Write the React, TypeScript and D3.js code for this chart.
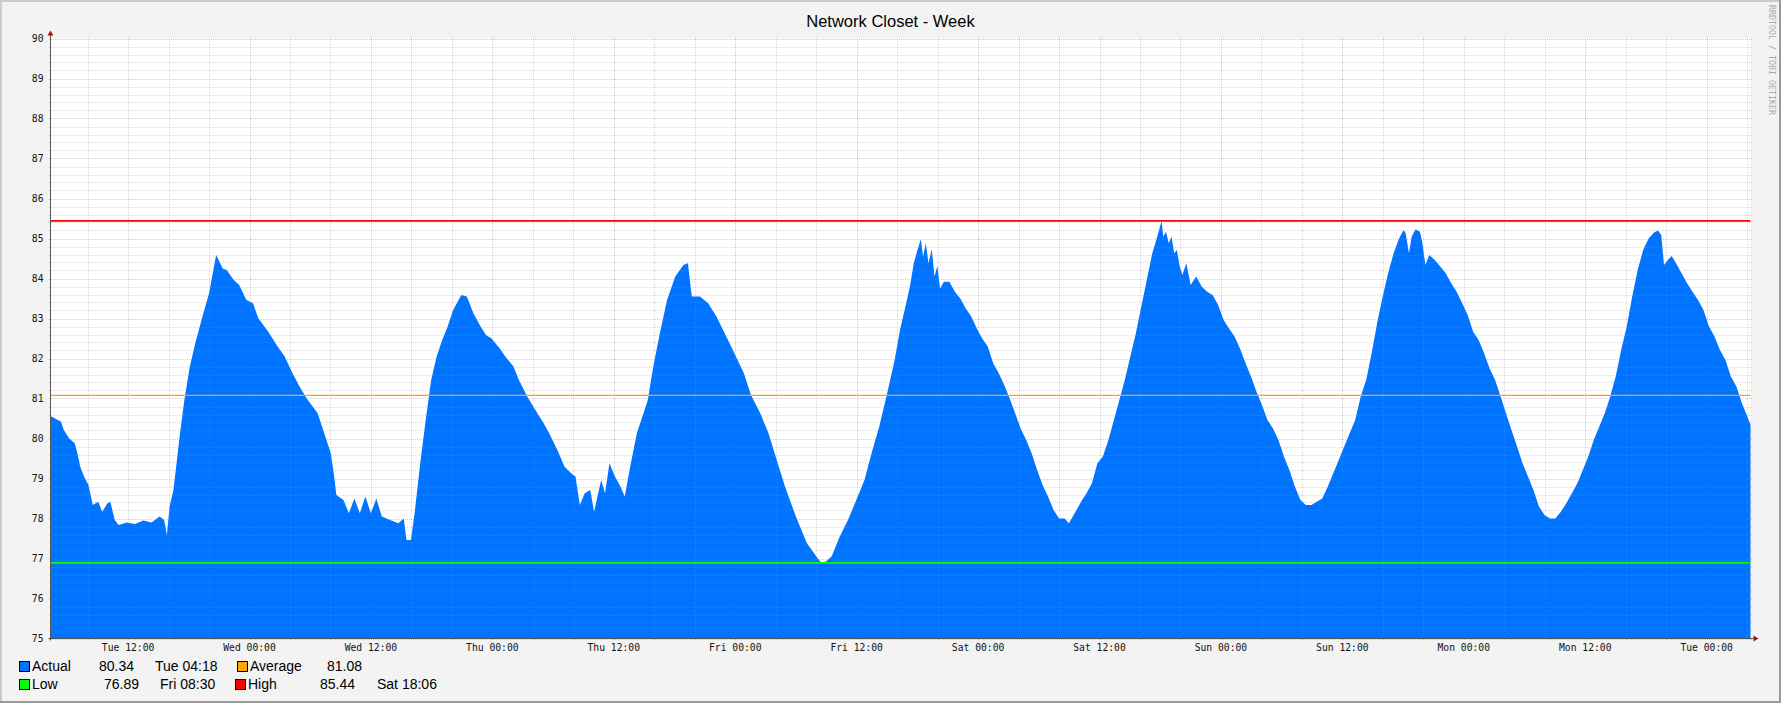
import React, { useEffect, useRef } from 'react'
import * as d3 from 'd3'

// graph window: one week ending Tue 04:20
const startTime = new Date(2024, 0, 2, 4, 20)
const spanHours = 168

// [hours since start, temperature]
const actual: [number, number][] = [
  [0.0, 80.56], [1.04, 80.42], [1.31, 80.21], [1.85, 80.0], [2.39, 79.88], [2.66, 79.63],
  [2.93, 79.3], [3.31, 79.05], [3.75, 78.84], [4.18, 78.34], [4.72, 78.42], [5.1, 78.17],
  [5.64, 78.38], [5.91, 78.42], [6.35, 77.96], [6.73, 77.84], [7.54, 77.9], [8.35, 77.86],
  [9.17, 77.95], [9.98, 77.9], [10.79, 78.05], [11.23, 77.96], [11.5, 77.59], [11.77, 78.3],
  [12.15, 78.71], [12.42, 79.3], [12.8, 80.13], [13.23, 80.96], [13.77, 81.8], [14.31, 82.38],
  [15.02, 83.05], [15.67, 83.63], [16.37, 84.59], [17.02, 84.25], [17.4, 84.21], [18.11, 83.96],
  [18.65, 83.84], [19.36, 83.46], [20.01, 83.38], [20.55, 83.0], [21.52, 82.67], [22.44, 82.3],
  [23.15, 82.05], [23.91, 81.63], [24.61, 81.3], [25.32, 81.0], [26.4, 80.63], [27.05, 80.13],
  [27.7, 79.63], [28.03, 79.05], [28.25, 78.59], [28.95, 78.46], [29.49, 78.13], [30.03, 78.5],
  [30.57, 78.13], [31.12, 78.55], [31.66, 78.13], [32.2, 78.5], [32.74, 78.05], [33.56, 77.96],
  [34.37, 77.88], [34.91, 78.0], [35.18, 77.46], [35.62, 77.46], [36.0, 78.17], [36.54, 79.38],
  [37.08, 80.46], [37.62, 81.46], [38.16, 82.05], [38.71, 82.46], [39.25, 82.8], [39.79, 83.21],
  [40.6, 83.59], [41.14, 83.55], [41.79, 83.13], [42.5, 82.8], [43.04, 82.59], [43.58, 82.5],
  [44.4, 82.25], [44.94, 82.05], [45.75, 81.8], [46.29, 81.46], [47.11, 81.05], [47.92, 80.71],
  [48.73, 80.38], [49.28, 80.13], [50.09, 79.71], [50.79, 79.3], [51.44, 79.13], [51.88, 79.05],
  [52.31, 78.34], [52.8, 78.63], [53.34, 78.71], [53.72, 78.17], [54.42, 78.96], [54.8, 78.63],
  [55.24, 79.38], [55.78, 79.05], [56.32, 78.8], [56.75, 78.55], [57.29, 79.3], [57.95, 80.13],
  [59.03, 80.96], [59.57, 81.8], [60.22, 82.63], [60.93, 83.46], [61.74, 84.05], [62.55, 84.34],
  [62.99, 84.38], [63.37, 83.55], [64.18, 83.55], [64.99, 83.38], [65.81, 83.05], [66.62, 82.63],
  [67.43, 82.21], [68.52, 81.63], [69.22, 81.09], [70.14, 80.63], [70.95, 80.13], [71.77, 79.46],
  [72.58, 78.8], [73.66, 78.05], [74.75, 77.38], [75.83, 77.0], [76.2, 76.89], [76.6, 76.92],
  [77.19, 77.05], [78.0, 77.55], [78.81, 77.96], [79.63, 78.46], [80.44, 78.96], [81.14, 79.63],
  [81.9, 80.3], [82.61, 81.05], [83.42, 81.96], [83.95, 82.71], [84.49, 83.3], [84.93, 83.8],
  [85.31, 84.38], [85.68, 84.71], [86.01, 84.98], [86.23, 84.55], [86.5, 84.88], [86.77, 84.38],
  [87.09, 84.73], [87.36, 84.05], [87.64, 84.31], [87.91, 83.75], [88.29, 83.92], [88.83, 83.92],
  [89.37, 83.67], [89.91, 83.5], [90.45, 83.25], [90.99, 83.05], [91.54, 82.75], [92.08, 82.5],
  [92.62, 82.3], [93.16, 81.88], [93.71, 81.63], [94.25, 81.34], [94.79, 81.0], [95.33, 80.63],
  [95.87, 80.25], [96.42, 79.96], [96.96, 79.63], [97.5, 79.21], [98.04, 78.84], [98.58, 78.55],
  [99.13, 78.21], [99.67, 78.0], [100.21, 78.0], [100.64, 77.88], [101.02, 78.05], [101.4, 78.21],
  [101.84, 78.42], [102.38, 78.63], [102.92, 78.88], [103.46, 79.38], [104.0, 79.55], [104.55, 79.96],
  [105.09, 80.46], [105.63, 80.96], [106.17, 81.46], [106.71, 82.05], [107.26, 82.63], [107.8, 83.3],
  [108.34, 83.96], [108.88, 84.63], [109.32, 85.0], [109.8, 85.44], [109.97, 85.05], [110.24, 85.17],
  [110.51, 84.88], [110.78, 85.05], [111.05, 84.63], [111.32, 84.71], [111.59, 84.3], [111.86, 84.09],
  [112.24, 84.38], [112.68, 83.84], [113.22, 84.05], [113.76, 83.8], [114.3, 83.67], [114.84, 83.59],
  [115.39, 83.34], [115.93, 82.96], [116.47, 82.75], [117.01, 82.55], [117.55, 82.25], [118.1, 81.88],
  [118.64, 81.55], [119.18, 81.17], [119.72, 80.84], [120.26, 80.46], [120.81, 80.25], [121.35, 79.96],
  [121.89, 79.55], [122.43, 79.21], [122.97, 78.8], [123.52, 78.46], [124.06, 78.34], [124.6, 78.34],
  [125.14, 78.42], [125.68, 78.5], [126.23, 78.8], [126.77, 79.13], [127.31, 79.46], [127.85, 79.8],
  [128.39, 80.13], [128.94, 80.46], [129.48, 81.05], [130.02, 81.46], [130.56, 82.13], [131.1, 82.88],
  [131.65, 83.55], [132.19, 84.13], [132.73, 84.63], [133.27, 85.0], [133.71, 85.21], [133.92, 85.13],
  [134.25, 84.63], [134.52, 85.05], [134.9, 85.23], [135.33, 85.17], [135.55, 84.92], [135.87, 84.34],
  [136.25, 84.59], [136.8, 84.46], [137.34, 84.3], [137.88, 84.13], [138.42, 83.88], [138.96, 83.67],
  [139.51, 83.38], [140.05, 83.09], [140.59, 82.67], [141.13, 82.46], [141.67, 82.13], [142.22, 81.75],
  [142.76, 81.46], [143.3, 81.05], [143.84, 80.63], [144.38, 80.21], [144.93, 79.8], [145.47, 79.38],
  [146.01, 79.05], [146.55, 78.71], [147.09, 78.3], [147.64, 78.09], [148.18, 78.0], [148.72, 78.0],
  [149.26, 78.17], [149.8, 78.38], [150.35, 78.63], [150.89, 78.88], [151.43, 79.21], [151.97, 79.55],
  [152.51, 79.96], [153.06, 80.3], [153.6, 80.63], [154.14, 81.05], [154.68, 81.55], [155.22, 82.21],
  [155.77, 82.8], [156.31, 83.55], [156.85, 84.21], [157.39, 84.71], [157.93, 85.0], [158.48, 85.15],
  [158.85, 85.2], [159.18, 85.09], [159.45, 84.34], [159.83, 84.46], [160.21, 84.56], [160.64, 84.38],
  [161.19, 84.13], [161.73, 83.88], [162.27, 83.67], [162.81, 83.46], [163.35, 83.21], [163.9, 82.8],
  [164.44, 82.55], [164.98, 82.21], [165.52, 81.96], [166.06, 81.55], [166.61, 81.3], [167.15, 80.88],
  [167.69, 80.55], [168.0, 80.34],
]

const averageValue = 81.08
const lowValue = 76.89
const highValue = 85.44

const yDomain = [75, 90]

const legendNames = ['Actual', 'Average', 'Low', 'High']
const legendColors = ['#0073FF', '#FFA500', '#00FF00', '#FF0000']
const legendValues = ['80.34', '81.08', '76.89', '85.44']
const legendTimes = ['Tue 04:18', '', 'Fri 08:30', 'Sat 18:06']

const title = 'Network Closet - Week'
const watermark = 'RRDTOOL / TOBI OETIKER'

export default function App() {
  const svgRef = useRef<SVGSVGElement>(null)

  useEffect(() => {
    if (!svgRef.current) return
    const svg = d3.select(svgRef.current)
    svg.selectAll('*').remove()

    const width = 1781
    const height = 703
    const left = 50.5
    const right = 1750.5
    const top = 38.5
    const bottom = 638.5
    const mono = '"DejaVu Sans Mono", monospace'
    const sans = '"Liberation Sans", Arial, sans-serif'

    const endTime = d3.timeHour.offset(startTime, spanHours)
    const x = d3.scaleTime().domain([startTime, endTime]).range([left, right])
    const y = d3.scaleLinear().domain(yDomain).range([bottom, top])
    const at = (h: number) => new Date(startTime.getTime() + h * 3600e3)

    // background + shading
    svg.append('rect').attr('width', width).attr('height', height).attr('fill', '#F3F3F3')
    svg.append('rect').attr('x', 0).attr('y', 0).attr('width', width).attr('height', 2).attr('fill', '#CBCBCB')
    svg.append('rect').attr('x', 0).attr('y', 0).attr('width', 2).attr('height', height).attr('fill', '#CBCBCB')
    svg.append('rect').attr('x', 0).attr('y', height - 2).attr('width', width).attr('height', 2).attr('fill', '#999999')
    svg.append('rect').attr('x', width - 2).attr('y', 0).attr('width', 2).attr('height', height).attr('fill', '#999999')

    // canvas
    svg.append('rect')
      .attr('x', left).attr('y', top)
      .attr('width', right - left).attr('height', bottom - top)
      .attr('fill', '#FFFFFF')

    const area = d3.area<[number, number]>()
      .x((d) => x(at(d[0])))
      .y0(bottom)
      .y1((d) => y(d[1]))
      .curve(d3.curveLinear)

    svg.append('path').datum(actual).attr('fill', legendColors[0]).attr('d', area)

    // grid
    const grid = svg.append('g').attr('shape-rendering', 'crispEdges')
    const minorY = d3.range(0, 76).filter((i) => i % 5 !== 0).map((i) => yDomain[0] + i * 0.2)
    const majorY = d3.range(yDomain[0], yDomain[1] + 1)
    const majorX = d3.timeHour.every(12)!.range(startTime, endTime)
    const minorX = d3.timeHour.every(4)!.range(startTime, endTime).filter((d) => d.getHours() % 12 !== 0)
    const minorColor = 'rgba(143,143,143,0.32)'
    const majorColor = 'rgba(232,72,72,0.36)'

    grid.selectAll('.hmin').data(minorY).join('line')
      .attr('x1', left - 2).attr('x2', right + 2)
      .attr('y1', (d) => Math.round(y(d)) + 0.5).attr('y2', (d) => Math.round(y(d)) + 0.5)
      .attr('stroke', minorColor).attr('stroke-dasharray', '1,1')
    grid.selectAll('.vmin').data(minorX).join('line')
      .attr('x1', (d) => Math.round(x(d)) + 0.5).attr('x2', (d) => Math.round(x(d)) + 0.5)
      .attr('y1', top - 2).attr('y2', bottom + 2)
      .attr('stroke', minorColor).attr('stroke-dasharray', '1,1')
    grid.selectAll('.hmaj').data(majorY).join('line')
      .attr('x1', left - 2).attr('x2', right + 2)
      .attr('y1', (d) => Math.round(y(d)) + 0.5).attr('y2', (d) => Math.round(y(d)) + 0.5)
      .attr('stroke', majorColor).attr('stroke-dasharray', '1,1')
    grid.selectAll('.vmaj').data(majorX).join('line')
      .attr('x1', (d) => Math.round(x(d)) + 0.5).attr('x2', (d) => Math.round(x(d)) + 0.5)
      .attr('y1', top - 2).attr('y2', bottom + 2)
      .attr('stroke', majorColor).attr('stroke-dasharray', '1,1')

    // rules
    const rules: [number, string, number][] = [
      [highValue, legendColors[3], 1.6],
      [averageValue, legendColors[1], 1.3],
      [lowValue, legendColors[2], 1.6],
    ]
    rules.forEach(([v, c, w]) => {
      svg.append('line')
        .attr('x1', left).attr('x2', right)
        .attr('y1', y(v)).attr('y2', y(v))
        .attr('stroke', c).attr('stroke-width', w)
    })

    // axes
    const axisColor = '#555555'
    const arrowColor = '#A01818'
    svg.append('line').attr('x1', left).attr('x2', left).attr('y1', bottom + 2).attr('y2', top - 4)
      .attr('stroke', axisColor).attr('stroke-width', 1)
    svg.append('line').attr('x1', left - 2).attr('x2', right + 4).attr('y1', bottom).attr('y2', bottom)
      .attr('stroke', axisColor).attr('stroke-width', 1)
    svg.append('path')
      .attr('d', `M${left - 3},${top - 3} L${left + 3},${top - 3} L${left},${top - 8} Z`)
      .attr('fill', arrowColor)
    svg.append('path')
      .attr('d', `M${right + 3},${bottom - 3} L${right + 3},${bottom + 3} L${right + 8},${bottom} Z`)
      .attr('fill', arrowColor)

    // y labels
    svg.append('g').selectAll('text').data(majorY).join('text')
      .attr('x', 43.5)
      .attr('y', (d) => y(d) + 3.7)
      .attr('text-anchor', 'end')
      .attr('font-family', mono).attr('font-size', 9.7)
      .attr('fill', '#111')
      .text((d) => d3.format('d')(d))

    // x labels
    svg.append('g').selectAll('text').data(majorX).join('text')
      .attr('x', (d) => x(d))
      .attr('y', 651)
      .attr('text-anchor', 'middle')
      .attr('font-family', mono).attr('font-size', 9.7)
      .attr('fill', '#111')
      .text((d) => d3.timeFormat('%a %H:%M')(d))

    // title
    svg.append('text')
      .attr('x', width / 2).attr('y', 27.3)
      .attr('text-anchor', 'middle')
      .attr('font-family', sans).attr('font-size', 16.5)
      .attr('fill', '#000')
      .text(title)

    // watermark
    svg.append('text')
      .attr('transform', `translate(1768.5,5) rotate(90)`)
      .attr('font-family', mono).attr('font-size', 8.3)
      .attr('fill', '#AAAAAA')
      .text(watermark)

    // legend
    const lg = svg.append('g').attr('font-family', sans).attr('font-size', 14).attr('fill', '#000')
    const box = (bx: number, by: number, color: string) =>
      lg.append('rect').attr('x', bx + 0.5).attr('y', by + 0.5).attr('width', 10).attr('height', 10)
        .attr('fill', color).attr('stroke', '#000').attr('stroke-width', 1)
    const txt = (tx: number, ty: number, s: string, anchor = 'start') =>
      lg.append('text').attr('x', tx).attr('y', ty).attr('text-anchor', anchor).text(s)

    const r1 = 671
    const r2 = 689
    box(19, 661, legendColors[0]); txt(32, r1, legendNames[0]); txt(134, r1, legendValues[0], 'end'); txt(155, r1, legendTimes[0])
    box(237, 661, legendColors[1]); txt(250, r1, legendNames[1]); txt(362, r1, legendValues[1], 'end')
    box(19, 679, legendColors[2]); txt(32, r2, legendNames[2]); txt(139, r2, legendValues[2], 'end'); txt(160, r2, legendTimes[2])
    box(235, 679, legendColors[3]); txt(248, r2, legendNames[3]); txt(355, r2, legendValues[3], 'end'); txt(377, r2, legendTimes[3])
  }, [])

  return (
    <svg
      ref={svgRef}
      width={1781}
      height={703}
      style={{ position: 'absolute', left: 0, top: 0, display: 'block' }}
    />
  )
}
